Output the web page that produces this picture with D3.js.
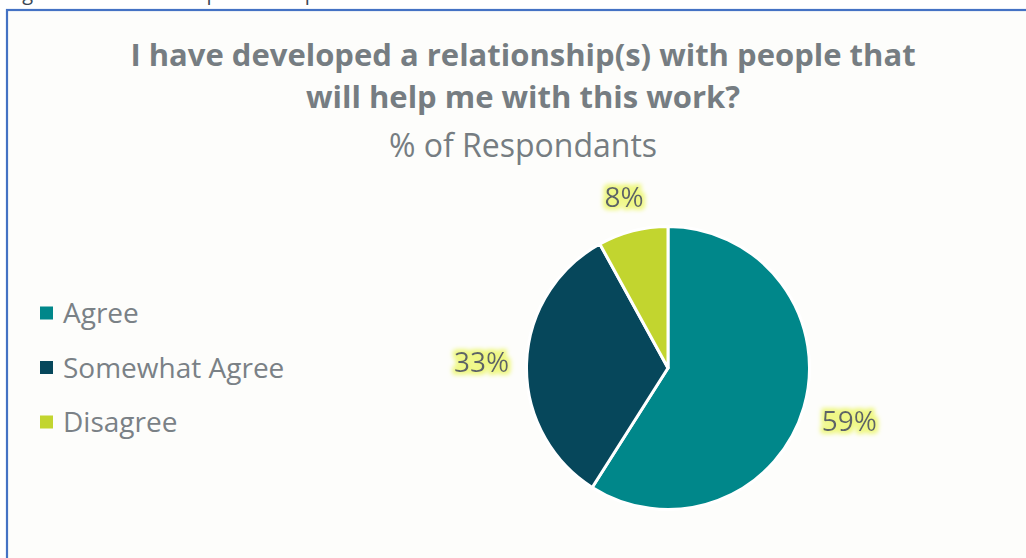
<!DOCTYPE html>
<html>
<head>
<meta charset="utf-8">
<script src="https://cdn.jsdelivr.net/npm/d3@7"></script>
<style>
  html, body { margin: 0; padding: 0; background: #ffffff; overflow: hidden; }
  svg { display: block; }
</style>
</head>
<body>
<svg id="chart" width="1026" height="558"></svg>
<script>
// Survey answers and their shares (percent of respondents)
const categories = ["Agree", "Somewhat Agree", "Disagree"];
const values = [59, 33, 8];
const colors = ["#00878a", "#06475b", "#c2d52f"];

const titleLines = ["I have developed a relationship(s) with people that", "will help me with this work?"];
const subtitle = "% of Respondants";
const caption = "Figure 16: Relationships that help";

const W = 1026, H = 558;
const svg = d3.select("#chart");
const FONT = "'Open Sans', 'Noto Sans', sans-serif";

// soft yellow halo behind data labels
const defs = svg.append("defs");
const glow = defs.append("filter").attr("id", "halo")
  .attr("x", "-30%").attr("y", "-40%").attr("width", "160%").attr("height", "180%");
glow.append("feMorphology").attr("in", "SourceAlpha").attr("operator", "dilate").attr("radius", 3).attr("result", "thick");
glow.append("feGaussianBlur").attr("in", "thick").attr("stdDeviation", 2.2).attr("result", "blur");
glow.append("feFlood").attr("flood-color", "#eef77e").attr("flood-opacity", 0.95).attr("result", "col");
glow.append("feComposite").attr("in", "col").attr("in2", "blur").attr("operator", "in").attr("result", "halo");
const merge = glow.append("feMerge");
merge.append("feMergeNode").attr("in", "halo");
merge.append("feMergeNode").attr("in", "SourceGraphic");

// caption line running off the top edge
svg.append("text")
  .attr("x", 7).attr("y", 0)
  .attr("font-family", FONT).attr("font-size", 20)
  .attr("fill", "#3a4654")
  .text(caption);

// chart frame
svg.append("rect")
  .attr("x", 7).attr("y", 10).attr("width", W).attr("height", H)
  .attr("fill", "#fdfdfb")
  .attr("stroke", "#4472c4").attr("stroke-width", 2.2);

// title
const title = svg.append("text")
  .attr("font-family", FONT).attr("font-weight", 700).attr("font-size", 31)
  .attr("fill", "#767d82").attr("text-anchor", "middle");
titleLines.forEach((t, i) => {
  title.append("tspan").attr("x", 523).attr("y", 66 + i * 42).text(t);
});
svg.append("text")
  .attr("x", 523).attr("y", 157)
  .attr("font-family", FONT).attr("font-size", 32)
  .attr("fill", "#767d82").attr("text-anchor", "middle")
  .text(subtitle);

// legend
const legend = svg.append("g").attr("transform", "translate(40,313)");
const color = d3.scaleOrdinal().domain(categories).range(colors);
const ly = d3.scalePoint().domain(categories).range([0, 109]);
const item = legend.selectAll("g").data(categories).join("g")
  .attr("transform", d => `translate(0,${ly(d)})`);
item.append("rect").attr("x", 0).attr("y", -6.5).attr("width", 13).attr("height", 13)
  .attr("fill", d => color(d));
item.append("text").attr("x", 23).attr("y", 0).attr("dy", "0.36em")
  .attr("font-family", FONT).attr("font-size", 28)
  .attr("fill", "#7a8186")
  .text(d => d);

// pie
const cx = 668, cy = 368, R = 141.5;
const data = categories.map((c, i) => ({ name: c, value: values[i] }));
const pie = d3.pie().value(d => d.value).sort(null);
const arcs = pie(data);
const arc = d3.arc().innerRadius(0).outerRadius(R);

const g = svg.append("g").attr("transform", `translate(${cx},${cy})`);
g.selectAll("path").data(arcs).join("path")
  .attr("d", arc)
  .attr("fill", d => color(d.data.name))
  .attr("stroke", "#ffffff").attr("stroke-width", 3).attr("stroke-linejoin", "round");

// outside-end labels: push each label box out along its slice's mid angle
// until the box clears the rim by a fixed gap
const gap = 17;
const labels = g.selectAll("text.lbl").data(arcs).join("text")
  .attr("class", "lbl")
  .attr("text-anchor", "middle").attr("dy", "0.36em")
  .attr("font-family", FONT).attr("font-size", 28)
  .attr("fill", "#5d6367")
  .attr("filter", "url(#halo)")
  .text(d => d.data.value + "%");
labels.attr("transform", function(d) {
  const bb = this.getBBox();
  const a = (d.startAngle + d.endAngle) / 2;
  const ux = Math.sin(a), uy = -Math.cos(a);
  const half = Math.abs(ux) * bb.width / 2 + Math.abs(uy) * bb.height * 0.36;
  const dist = R + gap + half;
  return `translate(${ux * dist},${uy * dist})`;
});
</script>
</body>
</html>
